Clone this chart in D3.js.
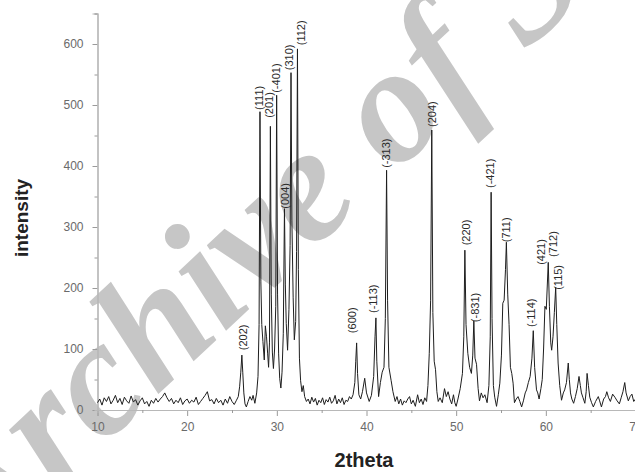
<!DOCTYPE html>
<html><head><meta charset="utf-8">
<script src="https://cdn.jsdelivr.net/npm/d3@7"></script>
<style>body{margin:0;background:#fff}svg{display:block}</style>
</head><body><svg id="chart" width="635" height="472"></svg>
<script>
// XRD pattern: [2theta, intensity]
const xrdPattern = [
[10.0,12],[10.25,18],[10.5,8],[10.75,20],[11.0,14],[11.25,22],[11.5,10],[11.75,16],[12.0,24],[12.25,12],
[12.5,19],[12.75,9],[13.0,21],[13.25,15],[13.5,11],[13.75,23],[14.0,13],[14.25,17],[14.5,8],[14.75,15],
[15.0,20],[15.25,10],[15.5,14],[15.75,6],[16.0,16],[16.25,11],[16.5,19],[16.75,13],[17.0,18],[17.25,22],
[17.5,28],[17.75,20],[18.0,14],[18.25,19],[18.5,10],[18.75,16],[19.0,12],[19.25,20],[19.5,9],[19.75,15],
[20.0,18],[20.25,11],[20.5,16],[20.75,13],[21.0,21],[21.25,9],[21.5,14],[21.75,19],[22.0,24],[22.25,30],
[22.5,15],[22.75,17],[23.0,10],[23.25,19],[23.5,12],[23.75,16],[24.0,8],[24.25,18],[24.5,11],[24.75,22],
[25.0,14],[25.25,9],[25.5,16],[25.7,22],[25.85,38],[25.98,62],[26.1,90],[26.2,62],[26.32,28],[26.45,10],
[26.6,5],[26.8,14],[27.0,22],[27.2,16],[27.35,24],[27.55,11],[27.75,28],[27.9,55],[28.02,140],[28.12,489],
[28.22,210],[28.32,140],[28.45,112],[28.6,82],[28.72,138],[28.85,120],[28.98,92],[29.08,70],[29.18,110],[29.28,465],
[29.38,190],[29.5,95],[29.62,68],[29.75,100],[29.88,170],[29.98,516],[30.08,190],[30.2,92],[30.32,52],[30.45,36],
[30.58,62],[30.72,125],[30.85,330],[30.95,205],[31.05,142],[31.2,98],[31.35,165],[31.48,270],[31.58,553],[31.68,310],
[31.82,185],[31.95,115],[32.1,145],[32.2,260],[32.3,592],[32.4,230],[32.52,85],[32.65,48],[32.8,30],[32.95,40],
[33.1,22],[33.3,14],[33.5,18],[33.7,10],[33.9,21],[34.1,13],[34.3,19],[34.5,8],[34.7,16],[34.9,12],
[35.1,20],[35.3,9],[35.5,17],[35.7,13],[35.9,21],[36.1,11],[36.3,15],[36.5,24],[36.7,10],[36.9,18],
[37.1,12],[37.3,20],[37.5,9],[37.7,16],[37.9,14],[38.1,22],[38.3,18],[38.5,25],[38.7,45],[38.8,80],
[38.9,110],[39.0,60],[39.15,25],[39.35,18],[39.55,30],[39.8,52],[40.0,28],[40.3,14],[40.55,24],[40.8,55],
[40.95,120],[41.05,151],[41.15,80],[41.35,22],[41.55,45],[41.75,62],[41.95,70],[42.1,150],[42.24,393],[42.35,180],
[42.5,70],[42.75,48],[42.95,30],[43.2,14],[43.4,22],[43.6,10],[43.8,18],[44.0,8],[44.2,15],[44.4,12],
[44.6,18],[44.8,22],[45.0,10],[45.2,16],[45.45,6],[45.7,25],[45.9,12],[46.1,18],[46.3,9],[46.5,20],
[46.7,14],[46.85,40],[47.0,93],[47.15,180],[47.28,459],[47.4,160],[47.55,80],[47.7,66],[47.85,30],[48.0,14],
[48.2,20],[48.45,12],[48.7,35],[48.9,22],[49.1,30],[49.3,18],[49.5,10],[49.7,25],[49.85,12],[50.0,6],
[50.2,18],[50.45,35],[50.7,60],[50.85,120],[50.97,262],[51.1,140],[51.3,93],[51.5,70],[51.7,60],[51.85,90],
[51.97,146],[52.1,85],[52.27,75],[52.45,35],[52.6,15],[52.8,28],[53.0,20],[53.2,25],[53.45,12],[53.65,40],
[53.8,120],[53.9,357],[54.0,150],[54.15,40],[54.3,21],[54.5,6],[54.7,25],[54.87,44],[55.05,90],[55.2,175],
[55.35,180],[55.5,230],[55.6,275],[55.75,190],[55.9,140],[56.05,70],[56.2,60],[56.35,44],[56.5,12],[56.7,18],
[56.9,22],[57.1,14],[57.3,5],[57.5,15],[57.7,28],[57.85,33],[58.05,45],[58.25,55],[58.45,85],[58.6,130],
[58.75,70],[58.96,33],[59.1,28],[59.25,18],[59.45,35],[59.6,50],[59.75,100],[59.9,170],[60.05,165],[60.15,200],
[60.27,242],[60.4,170],[60.55,110],[60.65,98],[60.8,120],[60.95,160],[61.1,201],[61.22,140],[61.37,77],[61.55,40],
[61.75,16],[61.95,28],[62.1,33],[62.3,45],[62.5,77],[62.62,50],[62.75,28],[62.9,18],[63.1,11],[63.3,22],
[63.5,35],[63.7,55],[63.85,40],[63.97,28],[64.15,20],[64.35,11],[64.5,30],[64.6,60],[64.75,40],[64.9,21],
[65.1,12],[65.3,5],[65.55,14],[65.85,22],[66.0,15],[66.2,5],[66.45,18],[66.65,22],[66.8,30],[67.0,20],
[67.2,14],[67.45,26],[67.7,21],[67.95,15],[68.2,10],[68.4,20],[68.6,30],[68.8,45],[68.95,28],[69.2,15],
[69.4,22],[69.6,26],[69.8,14],[70.0,18]
];

// Miller-index peak labels
const peakLabels = ["(202)","(111)","(201)","(-401)","(004)","(310)","(112)","(600)","(-113)","(-313)",
                    "(204)","(220)","(-831)","(-421)","(711)","(-114)","(421)","(712)","(115)"];
const peakLabelTheta = [26.2,28.0,29.1,29.9,30.9,31.35,32.7,38.37,40.75,42.24,
                        47.33,51.1,52.1,53.83,55.62,58.4,59.52,60.8,61.37];
const peakLabelBase = [98,492,479,520,330,557,598,126,159,397,
                       464,270,144,364,275,136,238,251,197];

const xTicks = [10,20,30,40,50,60,70];
const xMinorTicks = [15,25,35,45,55,65];
const yTicks = [0,100,200,300,400,500,600];
const yMinorTicks = [50,150,250,350,450,550,650];
const xTitle = "2theta";
const yTitle = "intensity";
const watermark = "Archive of SID";

const svg = d3.select("#chart");
const x = d3.scaleLinear().domain([10,70]).range([97.5,635.5]);
const y = d3.scaleLinear().domain([0,650]).range([410,13.5]);

// watermark (behind the chart)
svg.append("text")
  .attr("transform","translate(-25,565) rotate(-43)")
  .attr("font-family","'Liberation Serif', serif")
  .attr("font-style","italic").attr("font-weight","bold")
  .attr("font-size",165).attr("fill","#c6c6c6")
  .text(watermark);

const axisColor = "#b8b8b8";
const labelColor = "#6a6a6a";

// x axis
const gx = svg.append("g").attr("transform",`translate(0,${y(0)})`);
gx.call(d3.axisBottom(x).tickValues(xTicks).tickSize(6).tickPadding(6).tickFormat(d3.format("d")));
gx.append("g").call(d3.axisBottom(x).tickValues(xMinorTicks).tickSize(3).tickFormat(""));
// y axis
const gy = svg.append("g").attr("transform",`translate(${x(10)},0)`);
gy.call(d3.axisLeft(y).tickValues(yTicks).tickSize(5).tickPadding(9).tickFormat(d3.format("d")));
gy.append("g").call(d3.axisLeft(y).tickValues(yMinorTicks).tickSize(3).tickFormat(""));

svg.selectAll(".domain").attr("stroke",axisColor).attr("stroke-width",1.2);
svg.selectAll(".tick line").attr("stroke","#9a9a9a");
svg.selectAll(".tick text").attr("fill",labelColor)
  .attr("font-family","'Liberation Sans', Arial, sans-serif").attr("font-size",12);

// pattern line
const line = d3.line().x(d=>x(d[0])).y(d=>y(d[1]));
svg.append("path").datum(xrdPattern)
  .attr("d",line).attr("fill","none").attr("stroke","#1e1e1e")
  .attr("stroke-width",1).attr("stroke-linejoin","round");

// peak labels
svg.append("g").selectAll("text").data(peakLabels).join("text")
  .attr("transform",(d,i)=>`translate(${x(peakLabelTheta[i])},${y(peakLabelBase[i])}) rotate(-90)`)
  .attr("dy","0.35em")
  .attr("font-family","'Liberation Sans', Arial, sans-serif")
  .attr("font-size",11).attr("fill","#2a2a2a")
  .text(d=>d);

// axis titles
svg.append("text").attr("x",364).attr("y",467).attr("text-anchor","middle")
  .attr("font-family","'Liberation Sans', Arial, sans-serif").attr("font-weight","bold")
  .attr("font-size",20).attr("fill","#222").text(xTitle);
svg.append("text").attr("transform","translate(28,218) rotate(-90)").attr("text-anchor","middle")
  .attr("font-family","'Liberation Sans', Arial, sans-serif").attr("font-weight","bold")
  .attr("font-size",19).attr("fill","#222").text(yTitle);
</script>
</body></html>
